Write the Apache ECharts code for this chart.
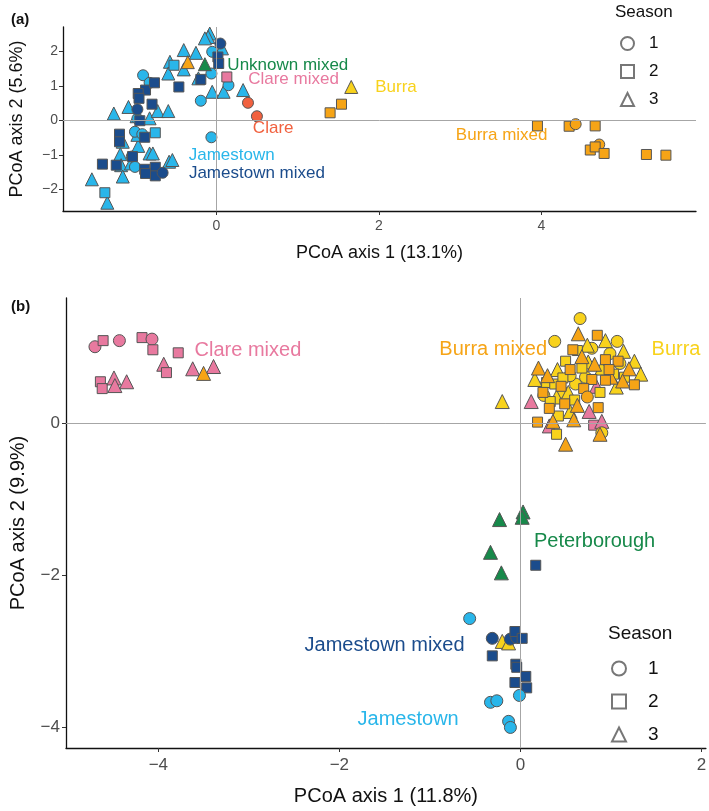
<!DOCTYPE html>
<html>
<head>
<meta charset="utf-8">
<script src="https://cdn.jsdelivr.net/npm/echarts@6/dist/echarts.min.js"></script>
<style>
  html, body { margin: 0; padding: 0; background: #fff; }
  #chart { width: 709px; height: 811px; }
</style>
</head>
<body>
<div id="chart"></div>
<script>
// each point: [PCoA axis 1, PCoA axis 2, season]
// ---- panel (a) ----
const aJamestown = [
  [-0.08, 2.52, 3], [-0.10, 2.42, 3], [-0.14, 2.38, 3], [0.07, 2.09, 3], [-0.40, 2.04, 3],
  [-0.25, 1.96, 3], [-0.57, 1.70, 3], [-0.59, 1.36, 3], [-0.40, 1.48, 3], [-0.22, 1.22, 3],
  [-0.05, 0.83, 3], [0.09, 0.83, 3], [0.33, 0.88, 3], [-1.26, 0.20, 3], [-1.08, 0.39, 3],
  [-0.98, 0.12, 3], [-0.82, 0.06, 3], [-0.72, 0.27, 3], [-0.59, 0.27, 3], [-1.15, -0.62, 3],
  [-0.96, -0.74, 3], [-0.82, -0.96, 3], [-0.78, -0.96, 3], [-1.18, -0.98, 3], [-1.17, -1.30, 3],
  [-1.05, -1.25, 3], [-0.58, -1.20, 3], [-0.54, -1.15, 3], [-1.53, -1.71, 3], [-1.15, -1.63, 3],
  [-1.34, -2.39, 3], [-0.97, -0.42, 3],
  [-0.52, 1.60, 2], [-0.75, -0.36, 2], [-1.37, -2.10, 2],
  [-0.05, 1.99, 1], [-0.06, 1.36, 1], [0.15, 1.02, 1], [-0.19, 0.57, 1], [-0.06, -0.49, 1],
  [-0.90, 1.31, 1], [-0.82, 1.09, 1], [-1.00, -0.33, 1], [-0.91, -0.40, 1], [-0.97, 0.05, 1],
  [-1.04, -1.05, 1], [-1.00, -1.35, 1]
];
const aJamestownMixed = [
  [0.02, 1.84, 2], [0.03, 1.65, 2], [-0.19, 1.19, 2], [-0.46, 0.97, 2], [-0.87, 0.88, 2],
  [-0.76, 1.09, 2], [-0.96, 0.78, 2], [-0.95, 0.64, 2], [-0.79, 0.47, 2], [-0.94, -0.01, 2],
  [-1.19, -0.40, 2], [-1.19, -0.62, 2], [-0.88, -0.49, 2], [-1.03, -1.05, 2], [-1.40, -1.27, 2],
  [-1.23, -1.30, 2], [-0.88, -1.42, 2], [-0.75, -1.36, 2], [-0.75, -1.61, 2], [-0.87, -1.54, 2],
  [0.05, 2.23, 1], [-0.66, -1.52, 1], [-0.97, 0.32, 1]
];
const aUnknownMixed = [[-0.14, 1.63, 3]];
const aClareMixed = [[0.13, 1.26, 2]];
const aClare = [[0.39, 0.51, 1], [0.50, 0.12, 1]];
const aBurra = [[1.66, 0.97, 3]];
const aBurraMixed = [
  [-0.35, 1.69, 3], [1.40, 0.22, 2], [1.54, 0.47, 2], [3.95, -0.16, 2], [4.34, -0.17, 2],
  [4.42, -0.11, 1], [4.66, -0.16, 2], [4.71, -0.70, 1], [4.60, -0.86, 2], [4.66, -0.77, 2],
  [4.77, -0.96, 2], [5.29, -0.99, 2], [5.53, -1.01, 2]
];
const aLabels = [
  [0.88, 1.60, 'Unknown mixed', 'green'], [0.95, 1.20, 'Clare mixed', 'pink'],
  [0.70, -0.22, 'Clare', 'red'], [2.21, 0.97, 'Burra', 'yellow'],
  [3.51, -0.43, 'Burra mixed', 'orange'], [0.19, -1.01, 'Jamestown', 'light'],
  [0.50, -1.53, 'Jamestown mixed', 'dark']
];

// ---- panel (b) ----
const bClareMixed = [
  [-4.70, 1.00, 1], [-4.61, 1.08, 2], [-4.43, 1.08, 1], [-4.18, 1.12, 2], [-4.07, 1.10, 1],
  [-4.06, 0.96, 2], [-3.78, 0.92, 2], [-3.94, 0.77, 3], [-3.91, 0.66, 2], [-3.62, 0.71, 3],
  [-3.39, 0.74, 3], [-4.64, 0.54, 2], [-4.62, 0.45, 2], [-4.49, 0.59, 3], [-4.48, 0.49, 3],
  [-4.35, 0.54, 3],
  [0.12, 0.28, 3], [0.32, -0.04, 3], [0.76, 0.15, 3], [0.81, -0.03, 2], [0.90, 0.02, 3], [0.84, 0.48, 3]
];
const bBurraMixed = [
  [-3.50, 0.65, 3],
  [0.20, 0.72, 3], [0.36, 0.02, 3], [0.50, -0.28, 3], [0.59, 0.04, 3], [0.63, 0.23, 3],
  [0.88, -0.15, 3], [0.82, 0.77, 3], [0.68, 0.87, 3], [0.64, 1.17, 3], [1.20, 0.71, 3], [1.13, 0.55, 3],
  [0.30, 0.62, 3], [1.00, 0.60, 3],
  [0.19, 0.01, 2], [0.32, 0.19, 2], [0.49, 0.25, 2], [0.86, 0.20, 2], [0.58, 0.96, 2],
  [0.85, 1.15, 2], [0.94, 0.83, 2], [1.26, 0.50, 2], [0.94, 0.56, 2], [0.79, 0.57, 2],
  [0.55, 0.70, 2], [1.08, 0.81, 2], [0.25, 0.40, 2], [0.70, 0.45, 2], [0.98, 0.70, 2], [0.45, 0.48, 2],
  [0.74, 0.34, 1]
];
const bBurra = [
  [0.38, 1.07, 1], [0.66, 1.37, 1], [1.07, 1.07, 1], [0.99, 0.91, 1], [0.61, 0.51, 1],
  [0.26, 0.36, 1], [0.90, -0.13, 1], [0.47, 0.40, 1], [0.79, 0.98, 1], [0.55, 0.62, 1],
  [0.72, 0.60, 1], [1.10, 0.78, 1],
  [-0.20, 0.28, 3], [0.16, 0.57, 3], [0.40, 0.34, 3], [0.53, 0.40, 3], [0.74, 1.02, 3],
  [0.94, 1.08, 3], [1.14, 0.94, 3], [1.26, 0.81, 3], [1.33, 0.64, 3], [0.41, 0.70, 3],
  [0.90, 0.72, 3], [1.06, 0.47, 3], [0.55, 0.15, 3], [0.75, 0.80, 3],
  [0.40, -0.15, 2], [0.42, 0.09, 2], [0.29, 0.53, 2], [0.38, 0.51, 2], [0.68, 0.72, 2],
  [0.50, 0.81, 2], [0.47, 0.59, 2], [1.03, 0.64, 2], [0.63, 0.95, 2], [0.88, 0.40, 2],
  [0.60, 0.30, 2], [0.33, 0.28, 2], [1.15, 0.60, 2],
  [-0.20, -2.87, 3], [-0.13, -2.89, 3]
];
const bPeterborough = [
  [-0.23, -1.27, 3], [0.03, -1.17, 3], [0.02, -1.24, 3], [-0.33, -1.70, 3], [-0.21, -1.97, 3]
];
const bJamestownMixed = [
  [0.17, -1.87, 2], [-0.31, -2.83, 1], [-0.11, -2.84, 1], [-0.04, -2.82, 1], [-0.06, -2.74, 2],
  [0.02, -2.83, 2], [-0.31, -3.06, 2], [-0.05, -3.17, 2], [-0.04, -3.21, 2], [0.06, -3.33, 2],
  [-0.06, -3.41, 2], [0.07, -3.48, 2]
];
const bJamestown = [
  [-0.56, -2.57, 1], [-0.01, -3.58, 1], [-0.33, -3.67, 1], [-0.26, -3.65, 1],
  [-0.13, -3.92, 1], [-0.11, -4.00, 1]
];
const bLabels = [
  [-3.01, 0.95, 'Clare mixed', 'pink'], [-0.30, 0.96, 'Burra mixed', 'orange'],
  [1.72, 0.96, 'Burra', 'yellow'], [0.82, -1.56, 'Peterborough', 'green'],
  [-1.50, -2.92, 'Jamestown mixed', 'dark'], [-1.24, -3.90, 'Jamestown', 'light']
];

const aTicksX = [0, 2, 4];
const aTicksY = [-2, -1, 0, 1, 2];
const bTicksX = [-4, -2, 0, 2];
const bTicksY = [-4, -2, 0];
const seasons = ['1', '2', '3'];

const colors = {
  light: '#29b6ea', dark: '#1b4c8c', green: '#17894a', pink: '#e8799f',
  red: '#f1613f', yellow: '#f8d21c', orange: '#f6a416'
};
const shapes = { 1: 'circle', 2: 'rect', 3: 'triangle' };
const font = 'Liberation Sans, Arial, sans-serif';
const minus = (v) => String(v).replace('-', '\u2212');

function pts(name, data, color, idx, sizes) {
  return {
    name, type: 'scatter', xAxisIndex: idx, yAxisIndex: idx, z: 3,
    data,
    symbol: (v) => shapes[v[2]],
    symbolSize: (v) => sizes[v[2]],
    itemStyle: { color, borderColor: '#555', borderWidth: 1, opacity: 1 },
    emphasis: { disabled: true }
  };
}

function labels(data, idx, size) {
  return {
    type: 'scatter', xAxisIndex: idx, yAxisIndex: idx, z: 5, silent: true,
    symbolSize: 1, itemStyle: { color: 'rgba(0,0,0,0)', opacity: 1 },
    data: data.map((d) => ({
      value: [d[0], d[1]],
      label: {
        show: true, position: 'inside', formatter: d[2], opacity: 1,
        color: colors[d[3]], fontSize: size, fontFamily: font
      }
    }))
  };
}

function zeroLines(idx) {
  return {
    type: 'scatter', xAxisIndex: idx, yAxisIndex: idx, z: 1, data: [], silent: true,
    markLine: {
      silent: true, symbol: 'none', animation: false,
      label: { show: false },
      lineStyle: { color: '#a6a6a6', width: 1, type: 'solid' },
      data: [{ xAxis: 0 }, { yAxis: 0 }]
    }
  };
}

function axis(idx, min, max, ticks, name, fs, tfs, gap, margin) {
  return {
    type: 'value', gridIndex: idx, min, max,
    name, nameLocation: 'middle', nameGap: gap,
    nameTextStyle: { color: '#111', fontSize: fs, fontFamily: font },
    axisLine: { show: true, onZero: false, lineStyle: { color: '#111', width: 1.3 } },
    axisTick: { show: true, length: 4, customValues: ticks, lineStyle: { color: '#333' } },
    axisLabel: { customValues: ticks, formatter: minus, color: '#4d4d4d', fontSize: tfs, fontFamily: font, margin },
    splitLine: { show: false }
  };
}

const legendSeries = seasons.map((s, i) => ({
  name: s, type: 'scatter', data: [], xAxisIndex: 0, yAxisIndex: 0,
  symbol: shapes[i + 1],
  itemStyle: { color: '#fff', borderColor: '#555', borderWidth: 1 }
}));

function legend(left, top, fs, gap, pad, size) {
  return {
    orient: 'vertical', left, top, itemGap: gap, itemWidth: size, itemHeight: size,
    selectedMode: false,
    data: seasons.map((s, i) => ({ name: s, icon: shapes[i + 1] })),
    textStyle: { color: '#111', fontSize: fs, fontFamily: font, padding: [0, 0, 0, pad] }
  };
}

const sizesA = { 1: 11, 2: 10, 3: 13 };
const sizesB = { 1: 12, 2: 10, 3: 14 };

const chart = echarts.init(document.getElementById('chart'), null, { renderer: 'canvas' });
chart.setOption({
  animation: false,
  backgroundColor: '#fff',
  title: [
    { text: '(a)', left: 6, top: 7, textStyle: { fontSize: 15, fontWeight: 'bold', color: '#111', fontFamily: font } },
    { text: '(b)', left: 6, top: 294, textStyle: { fontSize: 15, fontWeight: 'bold', color: '#111', fontFamily: font } },
    { text: 'Season', left: 610, top: -1, textStyle: { fontSize: 17, fontWeight: 'normal', color: '#111', fontFamily: font } },
    { text: 'Season', left: 603, top: 619, textStyle: { fontSize: 19, fontWeight: 'normal', color: '#111', fontFamily: font } }
  ],
  legend: [
    legend(615, 30, 17, 11, 10, 13),
    legend(606, 654, 19, 14, 17, 14)
  ],
  grid: [
    { left: 52, top: 27, width: 644, height: 184 },
    { left: 52, top: 298, width: 654, height: 464 }
  ],
  xAxis: [
    axis(0, -1.885, 5.9, aTicksX, 'PCoA axis 1 (13.1%)', 18, 14, 33, 8),
    axis(1, -5.02, 2.05, bTicksX, 'PCoA axis 1 (11.8%)', 20, 17, 38, 9)
  ],
  yAxis: [
    axis(0, -2.63, 2.71, aTicksY, 'PCoA axis 2 (5.6%)', 18, 14, 37, 5),
    axis(1, -4.27, 1.64, bTicksY, 'PCoA axis 2 (9.9%)', 20, 17, 38, 6)
  ],
  series: [
    zeroLines(0),
    zeroLines(1),
    ...legendSeries,
    pts('Jamestown', aJamestown, colors.light, 0, sizesA),
    pts('Jamestown mixed', aJamestownMixed, colors.dark, 0, sizesA),
    pts('Unknown mixed', aUnknownMixed, colors.green, 0, sizesA),
    pts('Clare mixed', aClareMixed, colors.pink, 0, sizesA),
    pts('Clare', aClare, colors.red, 0, sizesA),
    pts('Burra', aBurra, colors.yellow, 0, sizesA),
    pts('Burra mixed', aBurraMixed, colors.orange, 0, sizesA),
    pts('Clare mixed', bClareMixed, colors.pink, 1, sizesB),
    pts('Burra', bBurra, colors.yellow, 1, sizesB),
    pts('Burra mixed', bBurraMixed, colors.orange, 1, sizesB),
    pts('Peterborough', bPeterborough, colors.green, 1, sizesB),
    pts('Jamestown mixed', bJamestownMixed, colors.dark, 1, sizesB),
    pts('Jamestown', bJamestown, colors.light, 1, sizesB),
    labels(aLabels, 0, 17),
    labels(bLabels, 1, 20)
  ]
});
</script>
</body>
</html>
